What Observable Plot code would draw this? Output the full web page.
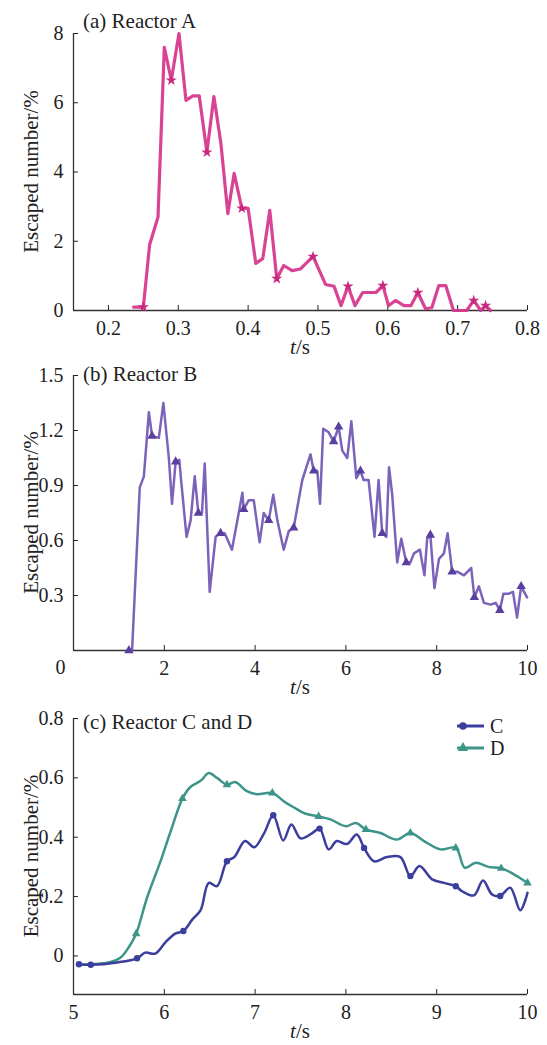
<!DOCTYPE html>
<html><head><meta charset="utf-8">
<script src="https://cdn.jsdelivr.net/npm/d3@7"></script>
<script src="https://cdn.jsdelivr.net/npm/@observablehq/plot@0.6"></script>
<style>
body{margin:0;background:#fff;}
#chart svg{display:block;}
#chart svg, #chart svg text{font-family:"Liberation Serif","DejaVu Serif","Times New Roman",Times,serif !important;}
</style></head><body><div id="chart"></div>
<script>
// ---- Panel (a) Reactor A ----
const tA = [0.236,0.250,0.259,0.271,0.280,0.290,0.301,0.311,0.321,0.330,0.341,0.351,0.361,0.371,0.380,0.391,0.400,0.411,0.421,0.431,0.441,0.451,0.463,0.475,0.493,0.511,0.523,0.533,0.543,0.553,0.564,0.583,0.593,0.601,0.611,0.623,0.633,0.643,0.654,0.663,0.673,0.683,0.694,0.713,0.723,0.733,0.740,0.747];
const yA = [0.10,0.10,1.9,2.7,7.6,6.65,8.0,6.07,6.2,6.2,4.57,6.18,4.83,2.8,3.96,2.95,2.95,1.36,1.5,2.89,0.92,1.3,1.15,1.2,1.56,0.75,0.7,0.14,0.70,0.14,0.52,0.52,0.72,0.14,0.29,0.14,0.14,0.52,0.05,0.08,0.72,0.72,0.0,0.0,0.29,0.0,0.14,0.0];
const markA = [0.250,0.290,0.341,0.391,0.441,0.493,0.543,0.593,0.643,0.723,0.740];
const xTicksA = [0.2,0.3,0.4,0.5,0.6,0.7,0.8];
const yTicksA = [0,2,4,6,8];

// ---- Panel (b) Reactor B ----
const tB = [1.22,1.29,1.46,1.55,1.66,1.73,1.88,1.98,2.10,2.17,2.25,2.33,2.37,2.49,2.58,2.67,2.75,2.83,2.89,3.00,3.13,3.24,3.33,3.49,3.61,3.72,3.75,3.86,3.97,4.10,4.19,4.30,4.40,4.49,4.63,4.74,4.85,5.04,5.22,5.29,5.37,5.43,5.50,5.62,5.73,5.84,5.92,6.03,6.12,6.23,6.32,6.39,6.50,6.63,6.72,6.80,6.89,6.95,7.02,7.13,7.22,7.33,7.42,7.50,7.63,7.73,7.79,7.86,7.95,8.05,8.16,8.24,8.34,8.45,8.60,8.76,8.83,8.93,9.04,9.19,9.30,9.39,9.47,9.59,9.68,9.77,9.86,9.99];
const yB = [0.0,0.0,0.89,0.95,1.30,1.17,1.16,1.35,1.05,0.80,1.03,1.04,0.93,0.62,0.71,0.95,0.75,0.75,1.02,0.32,0.62,0.64,0.64,0.55,0.71,0.86,0.77,0.82,0.82,0.59,0.75,0.71,0.85,0.71,0.55,0.65,0.67,0.93,1.07,0.98,0.98,0.80,1.21,1.19,1.14,1.22,1.09,1.05,1.25,0.94,0.98,0.93,0.93,0.62,0.93,0.64,0.62,1.00,0.85,0.48,0.61,0.48,0.48,0.53,0.55,0.41,0.61,0.63,0.34,0.50,0.53,0.64,0.43,0.43,0.41,0.45,0.29,0.35,0.26,0.25,0.26,0.22,0.31,0.31,0.32,0.18,0.35,0.29];
const markB = [1.22,1.73,2.25,2.75,3.24,3.75,4.30,4.85,5.29,5.73,5.84,6.32,6.80,7.33,7.86,8.34,8.83,9.39,9.86];
const xTicksB = [2,4,6,8,10];
const yTicksB = [0.3,0.6,0.9,1.2,1.5];

// ---- Panel (c) Reactor C and D ----
const tC = [5.06,5.19,5.48,5.70,5.79,5.90,6.01,6.12,6.21,6.31,6.40,6.49,6.58,6.69,6.77,6.89,6.99,7.10,7.20,7.31,7.40,7.50,7.63,7.71,7.81,7.90,8.01,8.12,8.20,8.31,8.45,8.60,8.71,8.81,8.95,9.08,9.21,9.28,9.41,9.51,9.61,9.70,9.81,9.92,10.0];
const yC = [-0.028,-0.03,-0.022,-0.008,0.011,0.008,0.045,0.075,0.084,0.123,0.154,0.246,0.235,0.319,0.333,0.387,0.366,0.414,0.474,0.389,0.443,0.396,0.414,0.429,0.359,0.387,0.377,0.409,0.364,0.319,0.333,0.333,0.269,0.303,0.258,0.246,0.235,0.218,0.204,0.254,0.207,0.202,0.230,0.154,0.213];
const markC = [5.06,5.19,5.70,6.21,6.69,7.20,7.71,8.20,8.71,9.21,9.70];
const tD = [5.06,5.41,5.52,5.61,5.69,5.81,5.96,6.07,6.20,6.29,6.40,6.49,6.58,6.69,6.78,6.91,7.02,7.19,7.32,7.43,7.55,7.70,7.83,8.00,8.11,8.22,8.38,8.56,8.71,8.86,9.04,9.21,9.31,9.43,9.57,9.71,9.85,10.0];
const yD = [-0.03,-0.02,-0.005,0.03,0.075,0.196,0.32,0.42,0.53,0.57,0.59,0.616,0.60,0.577,0.586,0.555,0.545,0.549,0.52,0.50,0.48,0.47,0.46,0.437,0.448,0.426,0.414,0.392,0.414,0.387,0.359,0.364,0.297,0.314,0.30,0.295,0.275,0.246];
const markD = [5.69,6.20,6.69,7.19,7.70,8.22,8.71,9.21,9.71,10.0];
const xTicksC = [5,6,7,8,9,10];
const yTicksC = [0,0.2,0.4,0.6,0.8];
const seriesNames = ["C","D"];

const colA = "#d6338a", colB = "#6e52b2", colC = "#3b3e9c", colD = "#3d9488";
const FONT = '"Liberation Serif","DejaVu Serif","Times New Roman",Times,serif';
const W = 547, ML = 73, MR = 20;

function rows(t, y, marks) {
  return t.map((d, i) => ({t: d, v: y[i], m: marks.includes(d)}));
}
const dataA = rows(tA, yA, markA);
const dataB = rows(tB, yB, markB);
const dataC = rows(tC, yC, markC);
const dataD = rows(tD, yD, markD);

function axisFmt(d) { return d === 0 ? "0" : d3.format("~g")(d); }

function panel({height, mt, mb, xDomain, yDomain, xTicks, yTicks, marks, title, titleY}) {
  const p = Plot.plot({
    width: W, height, marginLeft: ML, marginRight: MR, marginTop: mt, marginBottom: mb,
    style: {fontFamily: FONT, fontSize: "20px", color: "#222", background: "white", overflow: "visible"},
    x: {domain: xDomain, ticks: xTicks, tickFormat: axisFmt, tickSize: -5, tickPadding: 15, label: null},
    y: {domain: yDomain, ticks: yTicks, tickFormat: axisFmt, tickSize: -5, tickPadding: 15, label: null},
    marks: [
      Plot.ruleX([xDomain[0]], {stroke: "#333", strokeWidth: 1.3}),
      Plot.ruleY([yDomain[0]], {stroke: "#333", strokeWidth: 1.3}),
      ...marks
    ]
  });
  const svg = d3.select(p);
  svg.append("text").attr("x", ML + 10).attr("y", titleY).attr("text-anchor", "start")
    .attr("font-family", FONT).attr("font-size", 21).attr("fill", "#222").text(title);
  const cy = mt + (height - mt - mb) / 2;
  svg.append("text").attr("transform", `translate(31,${cy}) rotate(-90)`)
    .attr("text-anchor", "middle").attr("dy", "0.35em")
    .attr("font-family", FONT).attr("font-size", 21).attr("fill", "#222").text("Escaped number/%");
  const xl = svg.append("text").attr("x", ML + (W - ML - MR) / 2).attr("y", height - mb + 44)
    .attr("text-anchor", "middle").attr("font-family", FONT).attr("font-size", 21).attr("fill", "#222");
  xl.append("tspan").attr("font-style", "italic").text("t");
  xl.append("tspan").text("/s");
  return {p, svg};
}

const root = document.getElementById("chart");

// (a)
root.append(panel({
  height: 360, mt: 33, mb: 50, xDomain: [0.15, 0.8], yDomain: [0, 8], xTicks: xTicksA, yTicks: yTicksA,
  title: "(a) Reactor A", titleY: 28,
  marks: [
    Plot.line(dataA, {x: "t", y: "v", stroke: colA, strokeWidth: 3.2, strokeOpacity: 0.92}),
    Plot.dot(dataA.filter(d => d.m), {x: "t", y: "v", symbol: "star", r: 3.5, fill: "#c8287e"})
  ]
}).p);

// (b)
root.append(panel({
  height: 342, mt: 15, mb: 52, xDomain: [0, 10], yDomain: [0, 1.5], xTicks: xTicksB, yTicks: yTicksB,
  title: "(b) Reactor B", titleY: 21,
  marks: [
    Plot.line(dataB, {x: "t", y: "v", stroke: colB, strokeWidth: 2.5, strokeOpacity: 0.9}),
    Plot.dot(dataB.filter(d => d.m), {x: "t", y: "v", symbol: "triangle", r: 3.5, fill: "#5a3f9e"}),
    Plot.text([0], {x: d => d, y: d => d, text: d => "0", dx: -13, dy: 17, fontSize: 20, fill: "#222"})
  ]
}).p);

// (c)
const pc = panel({
  height: 343, mt: 16, mb: 51, xDomain: [5, 10], yDomain: [-0.13, 0.8], xTicks: xTicksC, yTicks: yTicksC,
  title: "(c) Reactor C and D", titleY: 27,
  marks: [
    Plot.line(dataD, {x: "t", y: "v", stroke: colD, strokeWidth: 2.5, curve: "catmull-rom"}),
    Plot.dot(dataD.filter(d => d.m), {x: "t", y: "v", symbol: "triangle", r: 3.2, fill: colD}),
    Plot.line(dataC, {x: "t", y: "v", stroke: colC, strokeWidth: 2.5, curve: "catmull-rom"}),
    Plot.dot(dataC.filter(d => d.m), {x: "t", y: "v", symbol: "circle", r: 3.2, fill: colC})
  ]
});
// legend
const leg = pc.svg.append("g").attr("font-family", FONT).attr("font-size", 20).attr("fill", "#222");
const legCols = [colC, colD], legSym = [d3.symbolCircle, d3.symbolTriangle];
seriesNames.forEach((name, i) => {
  const ly = 24 + i * 22;
  leg.append("line").attr("x1", 457).attr("x2", 484).attr("y1", ly).attr("y2", ly)
    .attr("stroke", legCols[i]).attr("stroke-width", 3);
  leg.append("path").attr("d", d3.symbol(legSym[i], 45)()).attr("transform", `translate(463,${ly})`).attr("fill", legCols[i]);
  leg.append("text").attr("x", 490).attr("y", ly).attr("dy", "0.35em").attr("text-anchor", "start").text(name);
});
root.append(pc.p);
</script>
</body></html>
